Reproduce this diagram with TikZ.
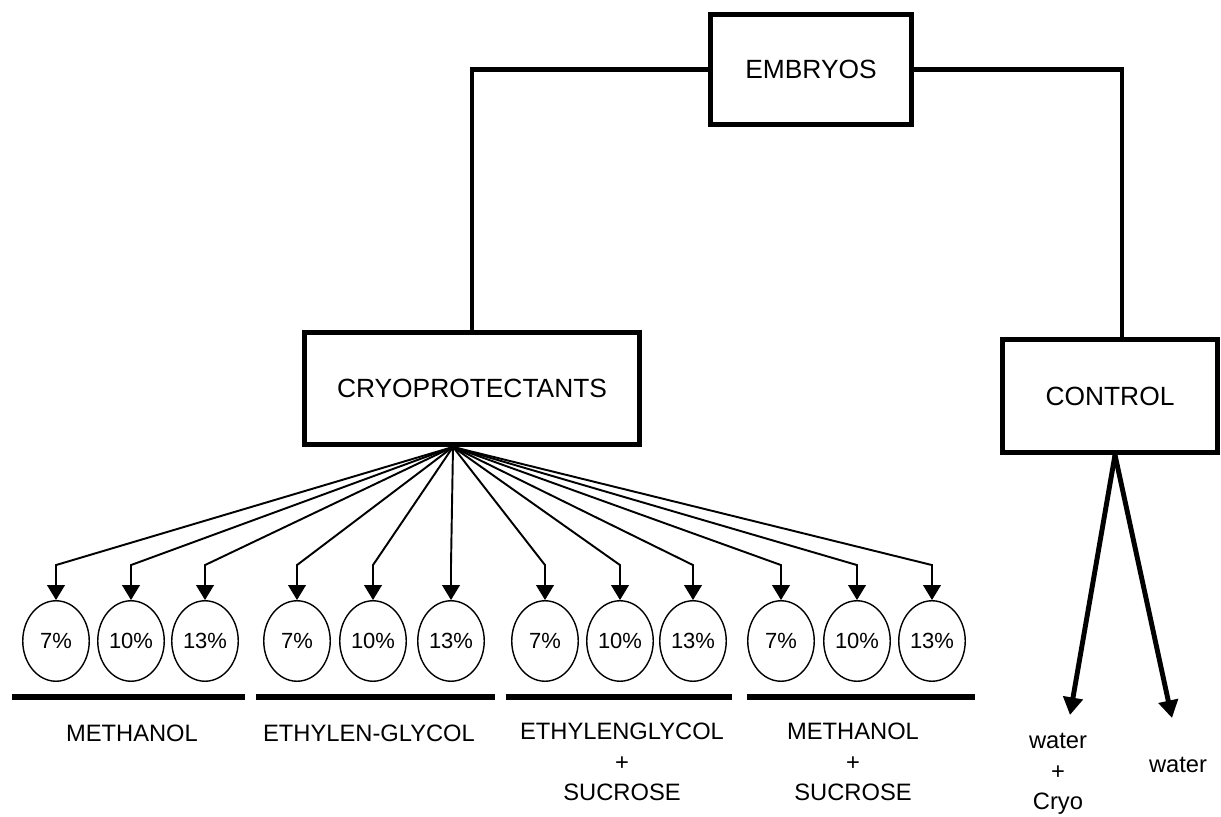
\documentclass[tikz,border=0pt]{standalone}
\usepackage{fontspec}
\setmainfont{Liberation Sans}
\usetikzlibrary{arrows.meta,shapes.geometric}
\begin{document}
\begin{tikzpicture}[x=0.02cm,y=-0.02cm,line join=miter]
	\tikzset{
		hop/.style={draw,line width=2.8pt,inner sep=0pt,font=\fontsize{15}{18}\selectfont},
		tron/.style={draw,ellipse,line width=0.8pt,minimum width=1.33cm,minimum height=1.61cm,inner sep=0pt,font=\fontsize{12.5}{14}\selectfont},
		nhan/.style={align=center,inner sep=0pt,font=\fontsize{13.5}{17.5}\selectfont},
		noi/.style={line width=2.3pt},
		mui/.style={line width=1.1pt,-{Triangle[width=10pt,length=8.5pt]}},
		muiday/.style={line width=2.8pt,-{Triangle[width=11pt,length=10pt]}},
		gach/.style={line width=3.4pt}
	}
	\useasboundingbox (0,0) rectangle (1221,817);
	
	% cac hop
	\node[hop,minimum width=4.02cm,minimum height=2.2cm] (embryos) at (811,69.5) {EMBRYOS};
	\node[hop,minimum width=6.7cm,minimum height=2.24cm] (cryo) at (472,388.5) {CRYOPROTECTANTS};
	\node[hop,minimum width=4.29cm,minimum height=2.26cm] (control) at (1110,396) {CONTROL};
	
	\draw[noi] (embryos.west) -| (cryo.north);
	\draw[noi] (embryos.east) -| ([xshift=0.24cm]control.north);
	
	% chum mui ten
	\coordinate (fan) at ([xshift=-0.38cm]cryo.south);
	\foreach \i/\cx/\t in {1/56/7,2/131/10,3/205/13,4/297/7,5/373/10,6/451/13,7/545/7,8/620/10,9/693/13,10/781/7,11/857/10,12/932/13}{
		\node[tron] (p\i) at (\cx,641) {\t\%};
		\draw[mui] (fan) -- ([yshift=0.7cm]p\i.north) -- (p\i.north);
	}
	
	\foreach \a/\b in {12/245,256/495,506/732,747/975}{
		\draw[gach] (\a,697) -- (\b,697);
	}
	
	\node[nhan] (met) at (132,733) {METHANOL};
	\node[nhan] (eth) at (369,733) {ETHYLEN-GLYCOL};
	\node[nhan] (ethsuc) at (622,762) {ETHYLENGLYCOL\\+\\SUCROSE};
	\node[nhan] (metsuc) at (853,762) {METHANOL\\+\\SUCROSE};
	
	% nhanh control
	\coordinate (dA) at (1070,715);
	\coordinate (dB) at (1172,718);
	\draw[muiday] ([xshift=0.1cm]control.south) -- (dA);
	\draw[muiday] ([xshift=0.1cm]control.south) -- (dB);
	\node[nhan] (wcryo) at (1058,774) {water\\+\\Cryo};
	\node[nhan] (wat) at (1178,765) {water};
\end{tikzpicture}
\end{document}
